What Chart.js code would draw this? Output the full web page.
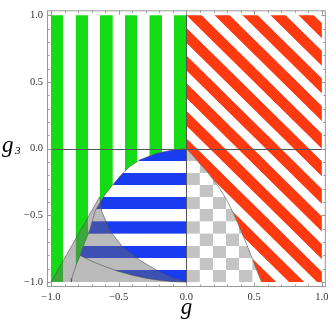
<!DOCTYPE html>
<html>
<head>
<meta charset="utf-8">
<script src="https://cdn.jsdelivr.net/npm/chart.js@4.4.1/dist/chart.umd.min.js"></script>
<style>
  html, body { margin: 0; padding: 0; background: #fff; }
</style>
</head>
<body>
<canvas id="myChart" width="332" height="324"></canvas>
<script>
// ticks
const gTicks = [-1, -0.5, 0, 0.5, 1];
const g3Ticks = [-1, -0.5, 0, 0.5, 1];
const minorTicks = [-0.9, -0.8, -0.7, -0.6, -0.4, -0.3, -0.2, -0.1, 0.1, 0.2, 0.3, 0.4, 0.6, 0.7, 0.8, 0.9];

// upper/left edge of the blue region, from the origin down to where it meets the grey wedge
const blueTopG  = [0, -0.1, -0.22, -0.343, -0.417, -0.491, -0.552, -0.601, -0.638, -0.675, -0.71, -0.75, -0.785];
const blueTopG3 = [0, -0.01, -0.035, -0.084, -0.133, -0.207, -0.281, -0.343, -0.405, -0.467, -0.6, -0.7, -0.8];
// lower edge of the blue region
const blueFootG  = [-0.785, -0.7, -0.6, -0.5, -0.4, -0.3, -0.2, -0.1, 0];
const blueFootG3 = [-0.8, -0.843, -0.885, -0.92, -0.949, -0.971, -0.987, -0.997, -1];
// right edge of the green region under the grey wedge
const innerG  = [-0.785, -0.81, -0.83, -0.845, -0.85];
const innerG3 = [-0.8, -0.86, -0.92, -0.97, -1];
// grey wedge
const greyG  = [-1, -0.64, -0.626, -0.565, -0.469, -0.343, -0.22, -0.1, 0];
const greyG3 = [-1, -0.36, -0.467, -0.615, -0.739, -0.837, -0.911, -0.97, -1];
// chequered region edge (g > 0)
const checkG  = [0, 0.05, 0.1, 0.15, 0.2, 0.25, 0.3, 0.35, 0.4, 0.45, 0.5, 0.53, 0.555];
const checkG3 = [0, -0.055, -0.115, -0.17, -0.235, -0.305, -0.39, -0.49, -0.61, -0.73, -0.86, -0.94, -1];

const serif = '"Liberation Serif", "Times New Roman", serif';

function pts(gs, g3s) {
  return gs.map((g, i) => ({x: g, y: g3s[i]}));
}

const greenPoly = [{x: -1, y: 1}, {x: 0, y: 1}, ...pts(blueTopG, blueTopG3), ...pts(innerG, innerG3), {x: -1, y: -1}];
const redPoly = [{x: 0, y: 1}, {x: 1, y: 1}, {x: 1, y: -1}, ...pts(checkG, checkG3).reverse()];
const bluePoly = [...pts(blueTopG, blueTopG3), ...pts(blueFootG, blueFootG3)];
const checkPoly = [...pts(checkG, checkG3), {x: 0, y: -1}];
const greyPoly = pts(greyG, greyG3);

// patterns are laid out in data units, so they are built from the scales
const T = 60;
function tile(draw) {
  const c = document.createElement('canvas');
  c.width = T; c.height = T;
  draw(c.getContext('2d'));
  return c;
}
function makePattern(chart, canvas, x0, y0, w, h) {
  const p = chart.ctx.createPattern(canvas, 'repeat');
  p.setTransform(new DOMMatrix().translate(x0, y0).scale(w / T, h / T));
  return p;
}

function greenStripes(ctx) {
  const {chart} = ctx;
  const {x, y} = chart.scales;
  if (!chart.chartArea) return 'transparent';
  const c = tile(t => { t.fillStyle = '#14dc14'; t.fillRect(0, 0, T / 2, T); });
  const w = x.getPixelForValue(-1 + 2 / 11) - x.getPixelForValue(-1);
  return makePattern(chart, c, x.getPixelForValue(-1), 0, w, T);
}
function blueStripes(ctx) {
  const {chart} = ctx;
  const {x, y} = chart.scales;
  if (!chart.chartArea) return 'transparent';
  const c = tile(t => { t.fillStyle = '#1a3cf0'; t.fillRect(0, 0, T, T / 2); });
  const h = y.getPixelForValue(-2 / 11) - y.getPixelForValue(0);
  return makePattern(chart, c, 0, y.getPixelForValue(0), T, h);
}
function redStripes(ctx) {
  const {chart} = ctx;
  const {x, y} = chart.scales;
  if (!chart.chartArea) return 'transparent';
  const frac = 0.54;
  const c = tile(t => {
    t.fillStyle = '#ff3a10';
    for (const d of [-2 * T, -T, 0, T]) {
      t.beginPath();
      t.moveTo(d, 0);
      t.lineTo(d + frac * T, 0);
      t.lineTo(d + frac * T + T, T);
      t.lineTo(d + T, T);
      t.closePath();
      t.fill();
    }
  });
  const w = x.getPixelForValue(0.207) - x.getPixelForValue(0);
  const h = y.getPixelForValue(1 - 0.207) - y.getPixelForValue(1);
  return makePattern(chart, c, x.getPixelForValue(0), y.getPixelForValue(1), w, h);
}
function chequer(ctx) {
  const {chart} = ctx;
  const {x, y} = chart.scales;
  if (!chart.chartArea) return 'transparent';
  const c = tile(t => {
    t.fillStyle = '#fff'; t.fillRect(0, 0, T, T);
    t.fillStyle = '#c4c4c4';
    t.fillRect(0, 0, T / 2, T / 2);
    t.fillRect(T / 2, T / 2, T / 2, T / 2);
  });
  const w = 2 * (x.getPixelForValue(0.0975) - x.getPixelForValue(0));
  const h = 2 * (y.getPixelForValue(-1 / 11) - y.getPixelForValue(0));
  return makePattern(chart, c, x.getPixelForValue(0), y.getPixelForValue(0), w, h);
}

function region(data, bg, order) {
  return {data, backgroundColor: bg, borderColor: 'transparent', borderWidth: 0,
          fill: 'shape', pointRadius: 0, order};
}
function edge(data) {
  return {data, borderColor: 'rgba(80,80,80,0.75)', borderWidth: 0.8, fill: false,
          pointRadius: 0, order: 0};
}

function fmt(v) {
  return (v < 0 ? '\u2212' : '') + Math.abs(v).toFixed(1);
}

const framePlugin = {
  id: 'frame',
  afterDatasetsDraw(chart) {
    const {ctx, chartArea: a, scales: {x, y}} = chart;
    ctx.save();
    ctx.lineWidth = 1;
    // axes through the origin
    ctx.strokeStyle = '#555';
    const px0 = Math.round(x.getPixelForValue(0)) + 0.5;
    const py0 = Math.round(y.getPixelForValue(0)) + 0.5;
    ctx.beginPath();
    ctx.moveTo(px0, a.top); ctx.lineTo(px0, a.bottom);
    ctx.moveTo(a.left, py0); ctx.lineTo(a.right, py0);
    ctx.stroke();
    // frame + inward ticks
    ctx.strokeStyle = '#999';
    ctx.strokeRect(a.left + 0.5, a.top + 0.5, a.width - 1, a.height - 1);
    ctx.beginPath();
    const xt = (vals, len) => vals.forEach(v => {
      const p = Math.round(x.getPixelForValue(v)) + 0.5;
      ctx.moveTo(p, a.bottom); ctx.lineTo(p, a.bottom - len);
      ctx.moveTo(p, a.top); ctx.lineTo(p, a.top + len);
    });
    const yt = (vals, len) => vals.forEach(v => {
      const p = Math.round(y.getPixelForValue(v)) + 0.5;
      ctx.moveTo(a.left, p); ctx.lineTo(a.left + len, p);
      ctx.moveTo(a.right, p); ctx.lineTo(a.right - len, p);
    });
    xt(gTicks, 4.5); xt(minorTicks, 2.5);
    yt(g3Ticks, 4.5); yt(minorTicks, 2.5);
    ctx.stroke();
    ctx.restore();
  },
  afterDraw(chart) {
    const {ctx, chartArea: a, scales: {y}} = chart;
    ctx.save();
    ctx.fillStyle = '#000';
    ctx.textBaseline = 'alphabetic';
    ctx.font = 'italic 23px ' + serif;
    ctx.textAlign = 'center';
    ctx.fillText('g', (a.left + a.right) / 2, a.bottom + 26.5);
    const yc = (a.top + a.bottom) / 2;
    ctx.textAlign = 'left';
    ctx.fillText('g', 2, yc + 3);
    ctx.font = 'italic 11px ' + serif;
    ctx.fillText('3', 15, yc + 5);
    ctx.restore();
  }
};

const config = {
  type: 'line',
  data: {
    datasets: [
      edge(pts(blueTopG, blueTopG3)),
      edge(pts(innerG, innerG3)),
      edge(pts(blueFootG, blueFootG3)),
      edge(greyPoly),
      edge(pts(checkG, checkG3)),
      region(greyPoly, 'rgba(105,105,105,0.45)', 1),
      region(checkPoly, chequer, 2),
      region(bluePoly, blueStripes, 3),
      region(redPoly, redStripes, 4),
      region(greenPoly, greenStripes, 5)
    ]
  },
  options: {
    responsive: false,
    animation: false,
    events: [],
    layout: {padding: {left: 0, right: 6, top: 7, bottom: 0}},
    plugins: {legend: {display: false}, tooltip: {enabled: false}},
    elements: {line: {tension: 0}},
    scales: {
      x: {
        type: 'linear', min: -1.0295, max: 1.0295,
        grid: {display: false, drawTicks: false},
        border: {display: false},
        afterBuildTicks: s => { s.ticks = gTicks.map(v => ({value: v})); },
        afterFit: s => { s.height = 37; },
        ticks: {callback: fmt, color: '#333', padding: 3.5, maxRotation: 0, autoSkip: false,
                font: {family: serif, size: 10.5}}
      },
      y: {
        type: 'linear', min: -1.037, max: 1.037,
        grid: {display: false, drawTicks: false},
        border: {display: false},
        afterBuildTicks: s => { s.ticks = g3Ticks.map(v => ({value: v})); },
        afterFit: s => { s.width = 47; },
        ticks: {callback: fmt, color: '#333', padding: 4, autoSkip: false,
                font: {family: serif, size: 10.5}}
      }
    }
  },
  plugins: [framePlugin]
};

const myChart = new Chart(document.getElementById('myChart'), config);
</script>
</body>
</html>
